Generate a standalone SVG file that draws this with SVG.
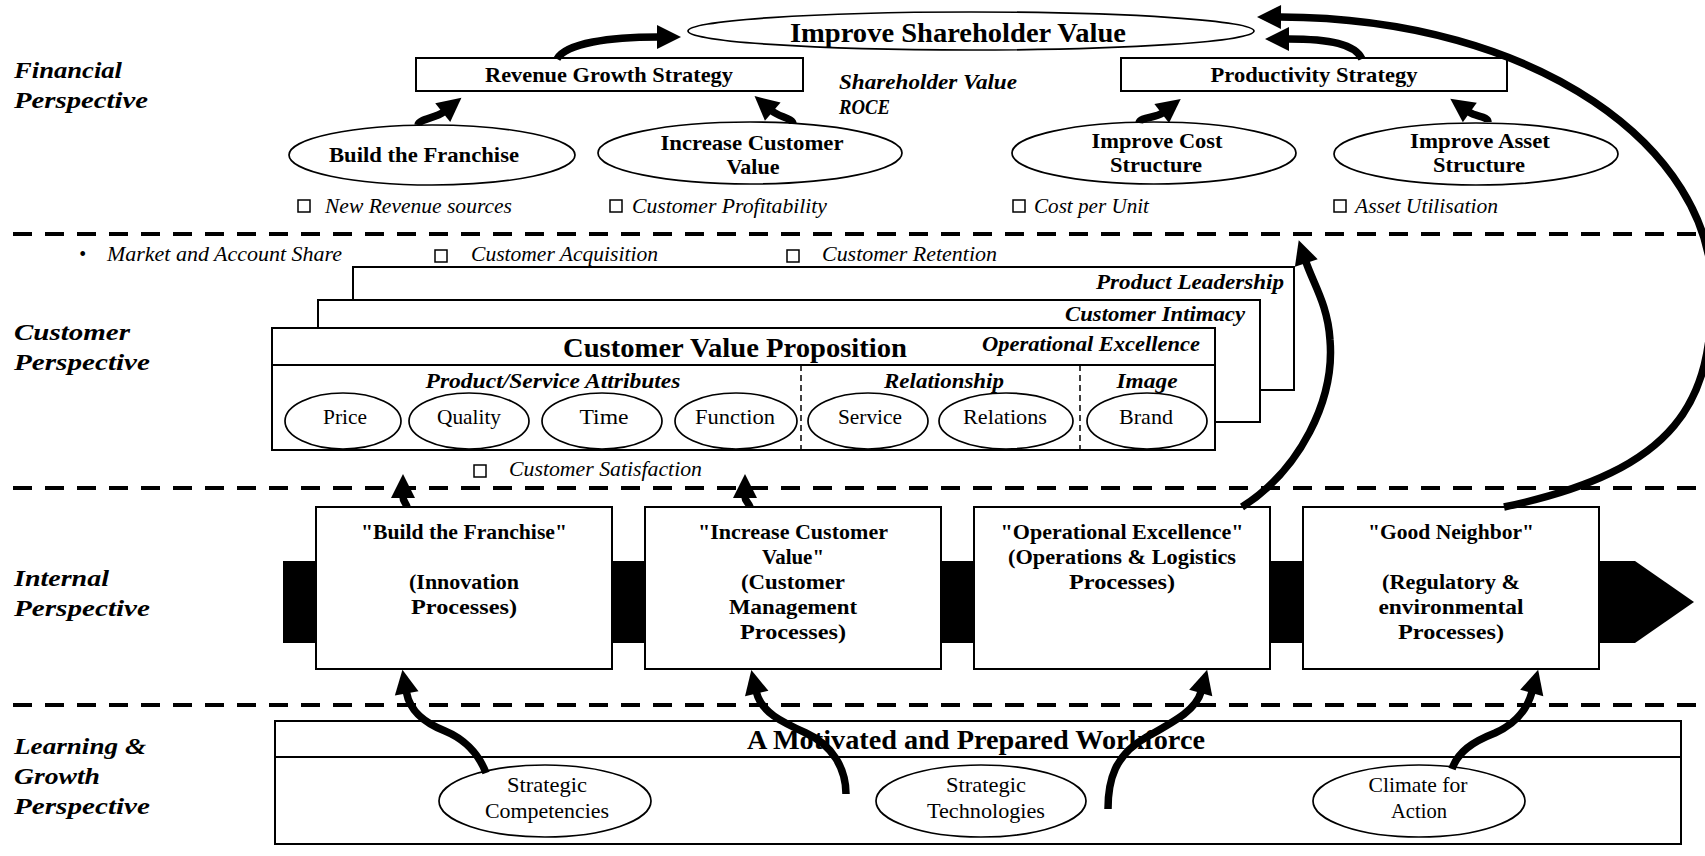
<svg xmlns="http://www.w3.org/2000/svg" width="1705" height="856" viewBox="0 0 1705 856">
<defs>
<marker id="ah" markerUnits="userSpaceOnUse" markerWidth="24" markerHeight="24" viewBox="0 0 24 24" refX="1" refY="12" orient="auto" overflow="visible"><path d="M0,0 L24,12 L0,24 z" fill="#000"/></marker>
</defs>
<style>
text{font-family:"Liberation Serif","Times New Roman",serif;fill:#000}
.lab{font-size:24px;font-weight:bold;font-style:italic}
.big{font-size:27px;font-weight:bold}
.bt{font-size:21px;font-weight:bold}
.bi{font-size:21px;font-weight:bold;font-style:italic}
.it{font-size:20px;font-style:italic}
.rg{font-size:21px}
.sm{font-size:21px}
.m{text-anchor:middle}
.e{text-anchor:end}
.box{fill:#fff;stroke:#000;stroke-width:2}
.ell{fill:#fff;stroke:#000;stroke-width:1.7}
.cb{fill:none;stroke:#000;stroke-width:1.5}
.sep{stroke:#000;stroke-width:4;stroke-dasharray:19 13;fill:none}
.vd{stroke:#000;stroke-width:1.5;stroke-dasharray:6 4;fill:none}
.arr{fill:none;stroke:#000;stroke-width:7.5;marker-end:url(#ah)}
</style>
<rect width="1705" height="856" fill="#fff"/>

<g id="perspective-labels">
<text class="lab" x="14" y="78" textLength="108" lengthAdjust="spacingAndGlyphs">Financial</text>
<text class="lab" x="14" y="108" textLength="134" lengthAdjust="spacingAndGlyphs">Perspective</text>
<text class="lab" x="14" y="340" textLength="116" lengthAdjust="spacingAndGlyphs">Customer</text>
<text class="lab" x="14" y="370" textLength="136" lengthAdjust="spacingAndGlyphs">Perspective</text>
<text class="lab" x="14" y="586" textLength="95" lengthAdjust="spacingAndGlyphs">Internal</text>
<text class="lab" x="14" y="616" textLength="136" lengthAdjust="spacingAndGlyphs">Perspective</text>
<text class="lab" x="14" y="754" textLength="132" lengthAdjust="spacingAndGlyphs">Learning &amp;</text>
<text class="lab" x="14" y="784" textLength="86" lengthAdjust="spacingAndGlyphs">Growth</text>
<text class="lab" x="14" y="814" textLength="136" lengthAdjust="spacingAndGlyphs">Perspective</text>
</g>

<g id="separators">
<line class="sep" x1="13" y1="234" x2="1705" y2="234"/>
<line class="sep" x1="13" y1="488" x2="1705" y2="488"/>
<line class="sep" x1="13" y1="705" x2="1705" y2="705"/>
</g>

<!-- Financial -->
<g id="improve-shareholder-value">
<ellipse class="ell" cx="971" cy="31" rx="283" ry="19"/>
<text class="big m" x="958" y="42" textLength="336" lengthAdjust="spacingAndGlyphs">Improve Shareholder Value</text>
</g>
<g id="revenue-growth-strategy">
<rect class="box" x="416" y="58" width="387" height="33"/>
<text class="bt m" x="609" y="82" textLength="248" lengthAdjust="spacingAndGlyphs">Revenue Growth Strategy</text>
</g>
<g id="productivity-strategy">
<rect class="box" x="1121" y="58" width="386" height="33"/>
<text class="bt m" x="1314" y="82" textLength="207" lengthAdjust="spacingAndGlyphs">Productivity Strategy</text>
</g>
<g id="financial-measures">
<text class="bi" x="839" y="89" textLength="178" lengthAdjust="spacingAndGlyphs">Shareholder Value</text>
<text class="bi" x="839" y="114" textLength="51" lengthAdjust="spacingAndGlyphs">ROCE</text>
</g>
<g id="build-the-franchise">
<ellipse class="ell" cx="432" cy="155" rx="143" ry="30"/>
<text class="bt m" x="424" y="162" textLength="190" lengthAdjust="spacingAndGlyphs">Build the Franchise</text>
</g>
<g id="increase-customer-value">
<ellipse class="ell" cx="750" cy="153" rx="152" ry="31"/>
<text class="bt m" x="752" y="150" textLength="183" lengthAdjust="spacingAndGlyphs">Increase Customer</text>
<text class="bt m" x="753" y="174" textLength="53" lengthAdjust="spacingAndGlyphs">Value</text>
</g>
<g id="improve-cost-structure">
<ellipse class="ell" cx="1154" cy="153" rx="142" ry="31"/>
<text class="bt m" x="1157" y="148" textLength="131" lengthAdjust="spacingAndGlyphs">Improve Cost</text>
<text class="bt m" x="1156" y="172" textLength="92" lengthAdjust="spacingAndGlyphs">Structure</text>
</g>
<g id="improve-asset-structure">
<ellipse class="ell" cx="1476" cy="154" rx="142" ry="31"/>
<text class="bt m" x="1480" y="148" textLength="140" lengthAdjust="spacingAndGlyphs">Improve Asset</text>
<text class="bt m" x="1479" y="172" textLength="92" lengthAdjust="spacingAndGlyphs">Structure</text>
</g>
<g id="financial-metrics">
<rect class="cb" x="298" y="200" width="12" height="12"/>
<text class="it" x="325" y="213" textLength="187" lengthAdjust="spacingAndGlyphs">New Revenue sources</text>
<rect class="cb" x="610" y="200" width="12" height="12"/>
<text class="it" x="632" y="213" textLength="195" lengthAdjust="spacingAndGlyphs">Customer Profitability</text>
<rect class="cb" x="1013" y="200" width="12" height="12"/>
<text class="it" x="1034" y="213" textLength="115" lengthAdjust="spacingAndGlyphs">Cost per Unit</text>
<rect class="cb" x="1334" y="200" width="12" height="12"/>
<text class="it" x="1355" y="213" textLength="143" lengthAdjust="spacingAndGlyphs">Asset Utilisation</text>
</g>

<!-- Customer -->
<g id="customer-metrics">
<text class="it" x="79" y="261">•</text>
<text class="it" x="107" y="261" textLength="235" lengthAdjust="spacingAndGlyphs">Market and Account Share</text>
<rect class="cb" x="435" y="250" width="12" height="12"/>
<text class="it" x="471" y="261" textLength="187" lengthAdjust="spacingAndGlyphs">Customer Acquisition</text>
<rect class="cb" x="787" y="250" width="12" height="12"/>
<text class="it" x="822" y="261" textLength="175" lengthAdjust="spacingAndGlyphs">Customer Retention</text>
<rect class="cb" x="474" y="465" width="12" height="12"/>
<text class="it" x="509" y="476" textLength="193" lengthAdjust="spacingAndGlyphs">Customer Satisfaction</text>
</g>
<g id="product-leadership">
<rect class="box" x="353" y="267" width="941" height="123"/>
<text class="bi e" x="1284" y="289" textLength="188" lengthAdjust="spacingAndGlyphs">Product Leadership</text>
</g>
<g id="customer-intimacy">
<rect class="box" x="318" y="300" width="942" height="122"/>
<text class="bi e" x="1245" y="321" textLength="180" lengthAdjust="spacingAndGlyphs">Customer Intimacy</text>
</g>
<g id="customer-value-proposition">
<rect class="box" x="272" y="328" width="943" height="122"/>
<line x1="272" y1="365" x2="1215" y2="365" stroke="#000" stroke-width="2"/>
<line class="vd" x1="801" y1="365" x2="801" y2="450"/>
<line class="vd" x1="1080" y1="365" x2="1080" y2="450"/>
<text class="big m" x="735" y="357" textLength="344" lengthAdjust="spacingAndGlyphs">Customer Value Proposition</text>
<text class="bi e" x="1200" y="351" textLength="218" lengthAdjust="spacingAndGlyphs">Operational Excellence</text>
<text class="bi m" x="553" y="388" textLength="255" lengthAdjust="spacingAndGlyphs">Product/Service Attributes</text>
<text class="bi m" x="944" y="388" textLength="120" lengthAdjust="spacingAndGlyphs">Relationship</text>
<text class="bi m" x="1147" y="388" textLength="61" lengthAdjust="spacingAndGlyphs">Image</text>
</g>
<g id="price"><ellipse class="ell" cx="343" cy="421" rx="58" ry="28"/><text class="rg m" x="345" y="424" textLength="44" lengthAdjust="spacingAndGlyphs">Price</text></g>
<g id="quality"><ellipse class="ell" cx="469" cy="421" rx="60" ry="28"/><text class="rg m" x="469" y="424" textLength="64" lengthAdjust="spacingAndGlyphs">Quality</text></g>
<g id="time"><ellipse class="ell" cx="602" cy="421" rx="60" ry="28"/><text class="rg m" x="604" y="424" textLength="49" lengthAdjust="spacingAndGlyphs">Time</text></g>
<g id="function"><ellipse class="ell" cx="736" cy="421" rx="61" ry="28"/><text class="rg m" x="735" y="424" textLength="80" lengthAdjust="spacingAndGlyphs">Function</text></g>
<g id="service"><ellipse class="ell" cx="868" cy="421" rx="60" ry="28"/><text class="rg m" x="870" y="424" textLength="64" lengthAdjust="spacingAndGlyphs">Service</text></g>
<g id="relations"><ellipse class="ell" cx="1006" cy="421" rx="67" ry="28"/><text class="rg m" x="1005" y="424" textLength="84" lengthAdjust="spacingAndGlyphs">Relations</text></g>
<g id="brand"><ellipse class="ell" cx="1147" cy="421" rx="60" ry="28"/><text class="rg m" x="1146" y="424" textLength="54" lengthAdjust="spacingAndGlyphs">Brand</text></g>

<!-- Internal -->
<g id="value-chain-bar">
<path d="M283,561 L1635,561 L1694,602 L1635,643 L283,643 z" fill="#000"/>
</g>
<g id="innovation-processes">
<rect class="box" x="316" y="507" width="296" height="162"/>
<text class="bt m" x="464" y="539" textLength="206" lengthAdjust="spacingAndGlyphs">"Build the Franchise"</text>
<text class="bt m" x="464" y="589" textLength="110" lengthAdjust="spacingAndGlyphs">(Innovation</text>
<text class="bt m" x="464" y="614" textLength="106" lengthAdjust="spacingAndGlyphs">Processes)</text>
</g>
<g id="customer-management-processes">
<rect class="box" x="645" y="507" width="296" height="162"/>
<text class="bt m" x="793" y="539" textLength="190" lengthAdjust="spacingAndGlyphs">"Increase Customer</text>
<text class="bt m" x="793" y="564" textLength="62" lengthAdjust="spacingAndGlyphs">Value"</text>
<text class="bt m" x="793" y="589" textLength="104" lengthAdjust="spacingAndGlyphs">(Customer</text>
<text class="bt m" x="793" y="614" textLength="128" lengthAdjust="spacingAndGlyphs">Management</text>
<text class="bt m" x="793" y="639" textLength="106" lengthAdjust="spacingAndGlyphs">Processes)</text>
</g>
<g id="operations-logistics-processes">
<rect class="box" x="974" y="507" width="296" height="162"/>
<text class="bt m" x="1122" y="539" textLength="243" lengthAdjust="spacingAndGlyphs">"Operational Excellence"</text>
<text class="bt m" x="1122" y="564" textLength="228" lengthAdjust="spacingAndGlyphs">(Operations &amp; Logistics</text>
<text class="bt m" x="1122" y="589" textLength="106" lengthAdjust="spacingAndGlyphs">Processes)</text>
</g>
<g id="regulatory-environmental-processes">
<rect class="box" x="1303" y="507" width="296" height="162"/>
<text class="bt m" x="1451" y="539" textLength="166" lengthAdjust="spacingAndGlyphs">"Good Neighbor"</text>
<text class="bt m" x="1451" y="589" textLength="138" lengthAdjust="spacingAndGlyphs">(Regulatory &amp;</text>
<text class="bt m" x="1451" y="614" textLength="145" lengthAdjust="spacingAndGlyphs">environmental</text>
<text class="bt m" x="1451" y="639" textLength="106" lengthAdjust="spacingAndGlyphs">Processes)</text>
</g>

<!-- Learning & Growth -->
<g id="motivated-workforce">
<rect class="box" x="275" y="721" width="1406" height="123"/>
<line x1="275" y1="757" x2="1681" y2="757" stroke="#000" stroke-width="2"/>
<text class="big m" x="976" y="749" textLength="458" lengthAdjust="spacingAndGlyphs">A Motivated and Prepared Workforce</text>
</g>
<g id="strategic-competencies">
<ellipse class="ell" cx="545" cy="801" rx="106" ry="36"/>
<text class="sm m" x="547" y="792" textLength="80" lengthAdjust="spacingAndGlyphs">Strategic</text>
<text class="sm m" x="547" y="818" textLength="124" lengthAdjust="spacingAndGlyphs">Competencies</text>
</g>
<g id="strategic-technologies">
<ellipse class="ell" cx="981" cy="801" rx="105" ry="36"/>
<text class="sm m" x="986" y="792" textLength="80" lengthAdjust="spacingAndGlyphs">Strategic</text>
<text class="sm m" x="986" y="818" textLength="118" lengthAdjust="spacingAndGlyphs">Technologies</text>
</g>
<g id="climate-for-action">
<ellipse class="ell" cx="1419" cy="801" rx="106" ry="36"/>
<text class="sm m" x="1418" y="792" textLength="99" lengthAdjust="spacingAndGlyphs">Climate for</text>
<text class="sm m" x="1419" y="818" textLength="56" lengthAdjust="spacingAndGlyphs">Action</text>
</g>

<g id="connectors">
<path class="arr" d="M557,59 C566,43 610,37 658,37"/>
<path class="arr" d="M418,125 C419,119 436,118 443.5,112"/>
<path class="arr" d="M793,124 C793,118 779,117 772,111"/>
<path class="arr" d="M1139,123 C1140,117 1156,118 1162.5,113"/>
<path class="arr" d="M1488,122 C1488,116 1476,117 1469,112"/>
<path class="arr" d="M1362,59 C1355,44 1330,39 1288,39"/>
<path class="arr" d="M1504,507 C1680,470 1712,400 1712,290 C1712,150 1540,18 1280,17"/>
<path class="arr" d="M1242,507 C1300,470 1335,400 1330,340 C1328,305 1313,283 1306,262"/>
<path class="arr" d="M407,507 C406,503 403,501 403,497"/>
<path class="arr" d="M750,507 C749,503 745,501 745,497"/>
<path class="arr" d="M486,773 C478,752 462,738 445,731 C425,723 410,712 406.5,692.5"/>
<path class="arr" d="M846,794 C846,768 832,745 806,733 C782,722 761,712 756.5,692.5"/>
<path class="arr" d="M1108,809 C1108,780 1115,755 1145,738 C1175,721 1196,710 1201,692"/>
<path class="arr" d="M1452,769 C1458,752 1472,742 1495,733 C1515,724 1527,710 1532,692"/>
</g>
</svg>
